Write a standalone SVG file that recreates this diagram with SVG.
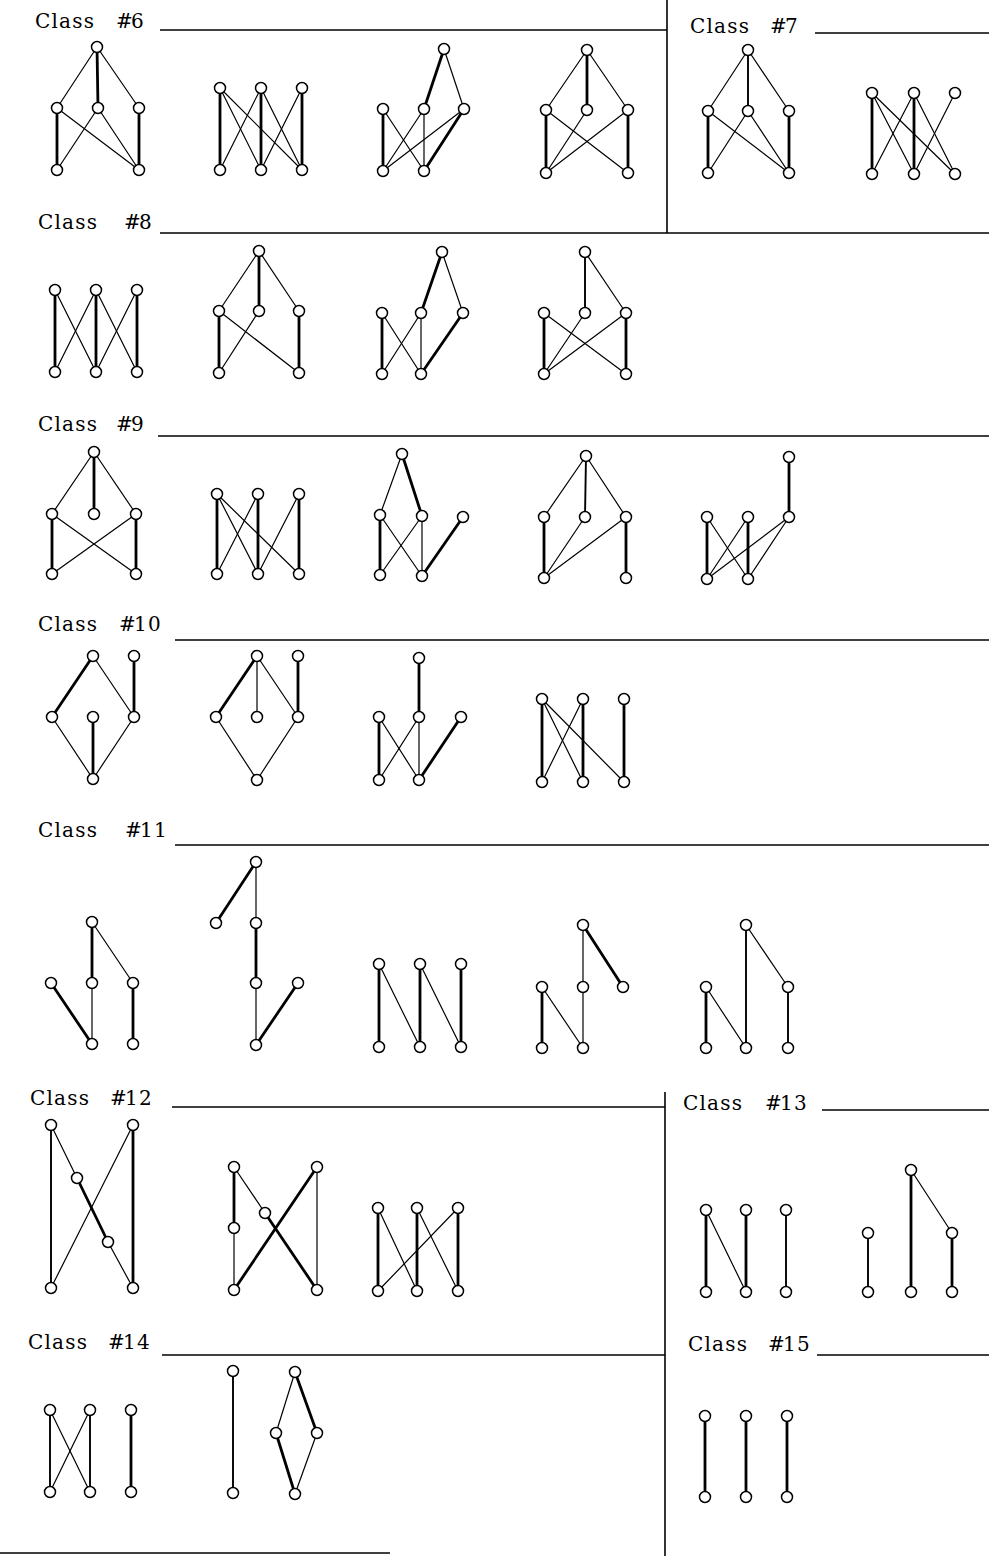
<svg xmlns="http://www.w3.org/2000/svg" width="989" height="1556" viewBox="0 0 989 1556">
<style>
.bg{fill:#fff}
.rule{stroke:#000;stroke-width:1.6;fill:none}
.lbl{font-family:"DejaVu Serif","Liberation Serif",serif;font-size:20px;letter-spacing:1.2px;fill:#000}
.lbl tspan{font-style:italic}
.connectors line{stroke:#000;stroke-linecap:round}
.t{stroke-width:1.2}
.m{stroke-width:1.9}
.k{stroke-width:2.8}
.nodes circle{fill:#fff;stroke:#000;stroke-width:1.5}
</style>
<rect class="bg" x="0" y="0" width="989" height="1556"/>
<g id="rules">
<line class="rule" x1="160" y1="30" x2="667" y2="30"/>
<line class="rule" x1="667" y1="0" x2="667" y2="233"/>
<line class="rule" x1="815" y1="33" x2="989" y2="33"/>
<line class="rule" x1="160" y1="233" x2="989" y2="233"/>
<line class="rule" x1="158" y1="436" x2="989" y2="436"/>
<line class="rule" x1="175" y1="640" x2="989" y2="640"/>
<line class="rule" x1="175" y1="845" x2="989" y2="845"/>
<line class="rule" x1="172" y1="1107" x2="665" y2="1107"/>
<line class="rule" x1="665" y1="1092" x2="665" y2="1556"/>
<line class="rule" x1="822" y1="1110" x2="989" y2="1110"/>
<line class="rule" x1="162" y1="1355" x2="665" y2="1355"/>
<line class="rule" x1="817" y1="1355" x2="989" y2="1355"/>
<line class="rule" x1="0" y1="1553" x2="390" y2="1553"/>
</g>
<g id="labels">
<text class="lbl" x="35" y="28">Class <tspan x="116">#</tspan><tspan x="131" style="font-style:normal">6</tspan></text>
<text class="lbl" x="690" y="33">Class <tspan x="770">#</tspan><tspan x="785" style="font-style:normal">7</tspan></text>
<text class="lbl" x="38" y="229">Class <tspan x="124">#</tspan><tspan x="139" style="font-style:normal">8</tspan></text>
<text class="lbl" x="38" y="431">Class <tspan x="116">#</tspan><tspan x="131" style="font-style:normal">9</tspan></text>
<text class="lbl" x="38" y="631">Class <tspan x="119">#</tspan><tspan x="134" style="font-style:normal">10</tspan></text>
<text class="lbl" x="38" y="837">Class <tspan x="125">#</tspan><tspan x="140" style="font-style:normal">11</tspan></text>
<text class="lbl" x="30" y="1105">Class <tspan x="110">#</tspan><tspan x="125" style="font-style:normal">12</tspan></text>
<text class="lbl" x="683" y="1110">Class <tspan x="765">#</tspan><tspan x="780" style="font-style:normal">13</tspan></text>
<text class="lbl" x="28" y="1349">Class <tspan x="108">#</tspan><tspan x="123" style="font-style:normal">14</tspan></text>
<text class="lbl" x="688" y="1351">Class <tspan x="768">#</tspan><tspan x="783" style="font-style:normal">15</tspan></text>
</g>
<g class="connectors" id="connectors">
<line class="t" x1="97" y1="47" x2="57" y2="108"/><line class="k" x1="97" y1="47" x2="98" y2="108"/><line class="t" x1="97" y1="47" x2="139" y2="108"/>
<line class="k" x1="57" y1="108" x2="57" y2="170"/><line class="t" x1="57" y1="108" x2="139" y2="170"/><line class="t" x1="98" y1="108" x2="57" y2="170"/><line class="t" x1="98" y1="108" x2="139" y2="170"/><line class="k" x1="139" y1="108" x2="139" y2="170"/>
<line class="k" x1="220" y1="88" x2="220" y2="170"/><line class="t" x1="220" y1="88" x2="261" y2="170"/><line class="t" x1="220" y1="88" x2="302" y2="170"/><line class="t" x1="261" y1="88" x2="220" y2="170"/><line class="k" x1="261" y1="88" x2="261" y2="170"/><line class="t" x1="261" y1="88" x2="302" y2="170"/><line class="t" x1="302" y1="88" x2="261" y2="170"/><line class="k" x1="302" y1="88" x2="302" y2="170"/>
<line class="k" x1="444" y1="49" x2="424" y2="109"/><line class="t" x1="444" y1="49" x2="464" y2="109"/>
<line class="k" x1="383" y1="109" x2="383" y2="171"/><line class="t" x1="383" y1="109" x2="424" y2="171"/><line class="t" x1="424" y1="109" x2="383" y2="171"/><line class="t" x1="424" y1="109" x2="424" y2="171"/><line class="t" x1="464" y1="109" x2="383" y2="171"/><line class="k" x1="464" y1="109" x2="424" y2="171"/>
<line class="t" x1="587" y1="50" x2="546" y2="110"/><line class="k" x1="587" y1="50" x2="587" y2="110"/><line class="t" x1="587" y1="50" x2="628" y2="110"/>
<line class="k" x1="546" y1="110" x2="546" y2="173"/><line class="t" x1="546" y1="110" x2="628" y2="173"/><line class="t" x1="587" y1="110" x2="546" y2="173"/><line class="t" x1="628" y1="110" x2="546" y2="173"/><line class="k" x1="628" y1="110" x2="628" y2="173"/>
<line class="t" x1="748" y1="50" x2="708" y2="111"/><line class="m" x1="748" y1="50" x2="748" y2="111"/><line class="t" x1="748" y1="50" x2="789" y2="111"/>
<line class="k" x1="708" y1="111" x2="708" y2="173"/><line class="t" x1="708" y1="111" x2="789" y2="173"/><line class="t" x1="748" y1="111" x2="708" y2="173"/><line class="t" x1="748" y1="111" x2="789" y2="173"/><line class="k" x1="789" y1="111" x2="789" y2="173"/>
<line class="k" x1="872" y1="93" x2="872" y2="174"/><line class="t" x1="872" y1="93" x2="914" y2="174"/><line class="t" x1="872" y1="93" x2="955" y2="174"/><line class="t" x1="914" y1="93" x2="872" y2="174"/><line class="k" x1="914" y1="93" x2="914" y2="174"/><line class="t" x1="914" y1="93" x2="955" y2="174"/><line class="t" x1="955" y1="93" x2="914" y2="174"/>
<line class="k" x1="55" y1="290" x2="55" y2="372"/><line class="t" x1="55" y1="290" x2="96" y2="372"/><line class="t" x1="96" y1="290" x2="55" y2="372"/><line class="k" x1="96" y1="290" x2="96" y2="372"/><line class="t" x1="96" y1="290" x2="137" y2="372"/><line class="t" x1="137" y1="290" x2="96" y2="372"/><line class="k" x1="137" y1="290" x2="137" y2="372"/>
<line class="t" x1="259" y1="251" x2="219" y2="311"/><line class="k" x1="259" y1="251" x2="259" y2="311"/><line class="t" x1="259" y1="251" x2="299" y2="311"/>
<line class="k" x1="219" y1="311" x2="219" y2="373"/><line class="t" x1="219" y1="311" x2="299" y2="373"/><line class="t" x1="259" y1="311" x2="219" y2="373"/><line class="k" x1="299" y1="311" x2="299" y2="373"/>
<line class="k" x1="442" y1="252" x2="421" y2="313"/><line class="t" x1="442" y1="252" x2="463" y2="313"/>
<line class="k" x1="382" y1="313" x2="382" y2="374"/><line class="t" x1="382" y1="313" x2="421" y2="374"/><line class="t" x1="421" y1="313" x2="382" y2="374"/><line class="t" x1="421" y1="313" x2="421" y2="374"/><line class="k" x1="463" y1="313" x2="421" y2="374"/>
<line class="m" x1="585" y1="252" x2="585" y2="313"/><line class="t" x1="585" y1="252" x2="626" y2="313"/>
<line class="k" x1="544" y1="313" x2="544" y2="374"/><line class="t" x1="544" y1="313" x2="626" y2="374"/><line class="t" x1="585" y1="313" x2="544" y2="374"/><line class="t" x1="626" y1="313" x2="544" y2="374"/><line class="k" x1="626" y1="313" x2="626" y2="374"/>
<line class="t" x1="94" y1="452" x2="52" y2="514"/><line class="k" x1="94" y1="452" x2="94" y2="514"/><line class="t" x1="94" y1="452" x2="136" y2="514"/>
<line class="k" x1="52" y1="514" x2="52" y2="574"/><line class="t" x1="52" y1="514" x2="136" y2="574"/><line class="t" x1="136" y1="514" x2="52" y2="574"/><line class="k" x1="136" y1="514" x2="136" y2="574"/>
<line class="k" x1="217" y1="494" x2="217" y2="574"/><line class="t" x1="217" y1="494" x2="258" y2="574"/><line class="t" x1="217" y1="494" x2="299" y2="574"/><line class="t" x1="258" y1="494" x2="217" y2="574"/><line class="k" x1="258" y1="494" x2="258" y2="574"/><line class="t" x1="299" y1="494" x2="258" y2="574"/><line class="k" x1="299" y1="494" x2="299" y2="574"/>
<line class="t" x1="402" y1="454" x2="380" y2="515"/><line class="k" x1="402" y1="454" x2="422" y2="516"/>
<line class="k" x1="380" y1="515" x2="380" y2="575"/><line class="t" x1="380" y1="515" x2="422" y2="576"/><line class="t" x1="422" y1="516" x2="380" y2="575"/><line class="t" x1="422" y1="516" x2="422" y2="576"/><line class="k" x1="463" y1="517" x2="422" y2="576"/>
<line class="t" x1="586" y1="456" x2="544" y2="517"/><line class="m" x1="586" y1="456" x2="585" y2="517"/><line class="t" x1="586" y1="456" x2="626" y2="517"/>
<line class="k" x1="544" y1="517" x2="544" y2="578"/><line class="t" x1="585" y1="517" x2="544" y2="578"/><line class="t" x1="626" y1="517" x2="544" y2="578"/><line class="k" x1="626" y1="517" x2="626" y2="578"/>
<line class="k" x1="789" y1="457" x2="789" y2="517"/>
<line class="k" x1="707" y1="517" x2="707" y2="579"/><line class="t" x1="707" y1="517" x2="748" y2="579"/><line class="t" x1="748" y1="517" x2="707" y2="579"/><line class="k" x1="748" y1="517" x2="748" y2="579"/><line class="t" x1="789" y1="517" x2="707" y2="579"/><line class="t" x1="789" y1="517" x2="748" y2="579"/>
<line class="k" x1="93" y1="656" x2="52" y2="717"/><line class="t" x1="93" y1="656" x2="134" y2="717"/><line class="k" x1="134" y1="656" x2="134" y2="717"/>
<line class="t" x1="52" y1="717" x2="93" y2="779"/><line class="k" x1="93" y1="717" x2="93" y2="779"/><line class="t" x1="134" y1="717" x2="93" y2="779"/>
<line class="k" x1="257" y1="656" x2="216" y2="717"/><line class="t" x1="257" y1="656" x2="257" y2="717"/><line class="t" x1="257" y1="656" x2="298" y2="717"/><line class="k" x1="298" y1="656" x2="298" y2="717"/>
<line class="t" x1="216" y1="717" x2="257" y2="780"/><line class="t" x1="298" y1="717" x2="257" y2="780"/>
<line class="k" x1="419" y1="658" x2="419" y2="717"/>
<line class="k" x1="379" y1="717" x2="379" y2="780"/><line class="t" x1="379" y1="717" x2="419" y2="780"/><line class="t" x1="419" y1="717" x2="379" y2="780"/><line class="t" x1="419" y1="717" x2="419" y2="780"/><line class="k" x1="461" y1="717" x2="419" y2="780"/>
<line class="k" x1="542" y1="699" x2="542" y2="782"/><line class="t" x1="542" y1="699" x2="583" y2="782"/><line class="t" x1="542" y1="699" x2="624" y2="782"/><line class="t" x1="583" y1="699" x2="542" y2="782"/><line class="k" x1="583" y1="699" x2="583" y2="782"/><line class="k" x1="624" y1="699" x2="624" y2="782"/>
<line class="k" x1="92" y1="922" x2="92" y2="983"/><line class="t" x1="92" y1="922" x2="133" y2="983"/>
<line class="k" x1="51" y1="983" x2="92" y2="1044"/><line class="t" x1="92" y1="983" x2="92" y2="1044"/><line class="k" x1="133" y1="983" x2="133" y2="1044"/>
<line class="k" x1="256" y1="862" x2="216" y2="923"/><line class="t" x1="256" y1="862" x2="256" y2="923"/><line class="k" x1="256" y1="923" x2="256" y2="983"/><line class="t" x1="256" y1="983" x2="256" y2="1045"/><line class="k" x1="298" y1="983" x2="256" y2="1045"/>
<line class="k" x1="379" y1="964" x2="379" y2="1047"/><line class="t" x1="379" y1="964" x2="420" y2="1047"/><line class="k" x1="420" y1="964" x2="420" y2="1047"/><line class="t" x1="420" y1="964" x2="461" y2="1047"/><line class="k" x1="461" y1="964" x2="461" y2="1047"/>
<line class="t" x1="583" y1="925" x2="583" y2="987"/><line class="k" x1="583" y1="925" x2="623" y2="987"/>
<line class="k" x1="542" y1="987" x2="542" y2="1048"/><line class="t" x1="542" y1="987" x2="583" y2="1048"/><line class="t" x1="583" y1="987" x2="583" y2="1048"/>
<line class="m" x1="746" y1="925" x2="746" y2="1048"/><line class="t" x1="746" y1="925" x2="788" y2="987"/>
<line class="k" x1="706" y1="987" x2="706" y2="1048"/><line class="t" x1="706" y1="987" x2="746" y2="1048"/><line class="m" x1="788" y1="987" x2="788" y2="1048"/>
<line class="m" x1="51" y1="1125" x2="51" y2="1288"/><line class="t" x1="51" y1="1125" x2="77" y2="1178"/><line class="k" x1="77" y1="1178" x2="108" y2="1242"/><line class="t" x1="108" y1="1242" x2="133" y2="1288"/><line class="t" x1="133" y1="1125" x2="51" y2="1288"/><line class="k" x1="133" y1="1125" x2="133" y2="1288"/>
<line class="k" x1="234" y1="1167" x2="234" y2="1228"/><line class="t" x1="234" y1="1228" x2="234" y2="1290"/><line class="t" x1="234" y1="1167" x2="265" y2="1213"/><line class="k" x1="265" y1="1213" x2="317" y2="1290"/><line class="k" x1="317" y1="1167" x2="234" y2="1290"/><line class="t" x1="317" y1="1167" x2="317" y2="1290"/>
<line class="k" x1="378" y1="1208" x2="378" y2="1291"/><line class="t" x1="378" y1="1208" x2="417" y2="1291"/><line class="k" x1="417" y1="1208" x2="417" y2="1291"/><line class="t" x1="417" y1="1208" x2="458" y2="1291"/><line class="t" x1="458" y1="1208" x2="378" y2="1291"/><line class="k" x1="458" y1="1208" x2="458" y2="1291"/>
<line class="k" x1="706" y1="1210" x2="706" y2="1292"/><line class="t" x1="706" y1="1210" x2="746" y2="1292"/><line class="k" x1="746" y1="1210" x2="746" y2="1292"/><line class="m" x1="786" y1="1210" x2="786" y2="1292"/>
<line class="m" x1="868" y1="1233" x2="868" y2="1292"/><line class="k" x1="911" y1="1170" x2="911" y2="1292"/><line class="t" x1="911" y1="1170" x2="952" y2="1233"/><line class="k" x1="952" y1="1233" x2="952" y2="1292"/>
<line class="m" x1="50" y1="1410" x2="50" y2="1492"/><line class="t" x1="50" y1="1410" x2="90" y2="1492"/><line class="t" x1="90" y1="1410" x2="50" y2="1492"/><line class="m" x1="90" y1="1410" x2="90" y2="1492"/><line class="k" x1="131" y1="1410" x2="131" y2="1492"/>
<line class="m" x1="233" y1="1371" x2="233" y2="1493"/><line class="t" x1="295" y1="1372" x2="276" y2="1433"/><line class="k" x1="295" y1="1372" x2="317" y2="1433"/><line class="k" x1="276" y1="1433" x2="295" y2="1494"/><line class="t" x1="317" y1="1433" x2="295" y2="1494"/>
<line class="k" x1="705" y1="1416" x2="705" y2="1497"/><line class="k" x1="746" y1="1416" x2="746" y2="1497"/><line class="k" x1="787" y1="1416" x2="787" y2="1497"/>
</g>
<g class="nodes" id="nodes">
<g id="c6a1"><circle cx="97" cy="47" r="5.5"/></g><g id="c6a2"><circle cx="57" cy="108" r="5.5"/></g><g id="c6a3"><circle cx="98" cy="108" r="5.5"/></g><g id="c6a4"><circle cx="139" cy="108" r="5.5"/></g><g id="c6a5"><circle cx="57" cy="170" r="5.5"/></g><g id="c6a6"><circle cx="139" cy="170" r="5.5"/></g>
<g id="c6b1"><circle cx="220" cy="88" r="5.5"/></g><g id="c6b2"><circle cx="261" cy="88" r="5.5"/></g><g id="c6b3"><circle cx="302" cy="88" r="5.5"/></g><g id="c6b4"><circle cx="220" cy="170" r="5.5"/></g><g id="c6b5"><circle cx="261" cy="170" r="5.5"/></g><g id="c6b6"><circle cx="302" cy="170" r="5.5"/></g>
<g id="c6c1"><circle cx="444" cy="49" r="5.5"/></g><g id="c6c2"><circle cx="383" cy="109" r="5.5"/></g><g id="c6c3"><circle cx="424" cy="109" r="5.5"/></g><g id="c6c4"><circle cx="464" cy="109" r="5.5"/></g><g id="c6c5"><circle cx="383" cy="171" r="5.5"/></g><g id="c6c6"><circle cx="424" cy="171" r="5.5"/></g>
<g id="c6d1"><circle cx="587" cy="50" r="5.5"/></g><g id="c6d2"><circle cx="546" cy="110" r="5.5"/></g><g id="c6d3"><circle cx="587" cy="110" r="5.5"/></g><g id="c6d4"><circle cx="628" cy="110" r="5.5"/></g><g id="c6d5"><circle cx="546" cy="173" r="5.5"/></g><g id="c6d6"><circle cx="628" cy="173" r="5.5"/></g>
<g id="c7a1"><circle cx="748" cy="50" r="5.5"/></g><g id="c7a2"><circle cx="708" cy="111" r="5.5"/></g><g id="c7a3"><circle cx="748" cy="111" r="5.5"/></g><g id="c7a4"><circle cx="789" cy="111" r="5.5"/></g><g id="c7a5"><circle cx="708" cy="173" r="5.5"/></g><g id="c7a6"><circle cx="789" cy="173" r="5.5"/></g>
<g id="c7b1"><circle cx="872" cy="93" r="5.5"/></g><g id="c7b2"><circle cx="914" cy="93" r="5.5"/></g><g id="c7b3"><circle cx="955" cy="93" r="5.5"/></g><g id="c7b4"><circle cx="872" cy="174" r="5.5"/></g><g id="c7b5"><circle cx="914" cy="174" r="5.5"/></g><g id="c7b6"><circle cx="955" cy="174" r="5.5"/></g>
<g id="c8a1"><circle cx="55" cy="290" r="5.5"/></g><g id="c8a2"><circle cx="96" cy="290" r="5.5"/></g><g id="c8a3"><circle cx="137" cy="290" r="5.5"/></g><g id="c8a4"><circle cx="55" cy="372" r="5.5"/></g><g id="c8a5"><circle cx="96" cy="372" r="5.5"/></g><g id="c8a6"><circle cx="137" cy="372" r="5.5"/></g>
<g id="c8b1"><circle cx="259" cy="251" r="5.5"/></g><g id="c8b2"><circle cx="219" cy="311" r="5.5"/></g><g id="c8b3"><circle cx="259" cy="311" r="5.5"/></g><g id="c8b4"><circle cx="299" cy="311" r="5.5"/></g><g id="c8b5"><circle cx="219" cy="373" r="5.5"/></g><g id="c8b6"><circle cx="299" cy="373" r="5.5"/></g>
<g id="c8c1"><circle cx="442" cy="252" r="5.5"/></g><g id="c8c2"><circle cx="382" cy="313" r="5.5"/></g><g id="c8c3"><circle cx="421" cy="313" r="5.5"/></g><g id="c8c4"><circle cx="463" cy="313" r="5.5"/></g><g id="c8c5"><circle cx="382" cy="374" r="5.5"/></g><g id="c8c6"><circle cx="421" cy="374" r="5.5"/></g>
<g id="c8d1"><circle cx="585" cy="252" r="5.5"/></g><g id="c8d2"><circle cx="544" cy="313" r="5.5"/></g><g id="c8d3"><circle cx="585" cy="313" r="5.5"/></g><g id="c8d4"><circle cx="626" cy="313" r="5.5"/></g><g id="c8d5"><circle cx="544" cy="374" r="5.5"/></g><g id="c8d6"><circle cx="626" cy="374" r="5.5"/></g>
<g id="c9a1"><circle cx="94" cy="452" r="5.5"/></g><g id="c9a2"><circle cx="52" cy="514" r="5.5"/></g><g id="c9a3"><circle cx="94" cy="514" r="5.5"/></g><g id="c9a4"><circle cx="136" cy="514" r="5.5"/></g><g id="c9a5"><circle cx="52" cy="574" r="5.5"/></g><g id="c9a6"><circle cx="136" cy="574" r="5.5"/></g>
<g id="c9b1"><circle cx="217" cy="494" r="5.5"/></g><g id="c9b2"><circle cx="258" cy="494" r="5.5"/></g><g id="c9b3"><circle cx="299" cy="494" r="5.5"/></g><g id="c9b4"><circle cx="217" cy="574" r="5.5"/></g><g id="c9b5"><circle cx="258" cy="574" r="5.5"/></g><g id="c9b6"><circle cx="299" cy="574" r="5.5"/></g>
<g id="c9c1"><circle cx="402" cy="454" r="5.5"/></g><g id="c9c2"><circle cx="380" cy="515" r="5.5"/></g><g id="c9c3"><circle cx="422" cy="516" r="5.5"/></g><g id="c9c4"><circle cx="463" cy="517" r="5.5"/></g><g id="c9c5"><circle cx="380" cy="575" r="5.5"/></g><g id="c9c6"><circle cx="422" cy="576" r="5.5"/></g>
<g id="c9d1"><circle cx="586" cy="456" r="5.5"/></g><g id="c9d2"><circle cx="544" cy="517" r="5.5"/></g><g id="c9d3"><circle cx="585" cy="517" r="5.5"/></g><g id="c9d4"><circle cx="626" cy="517" r="5.5"/></g><g id="c9d5"><circle cx="544" cy="578" r="5.5"/></g><g id="c9d6"><circle cx="626" cy="578" r="5.5"/></g>
<g id="c9e1"><circle cx="789" cy="457" r="5.5"/></g><g id="c9e2"><circle cx="707" cy="517" r="5.5"/></g><g id="c9e3"><circle cx="748" cy="517" r="5.5"/></g><g id="c9e4"><circle cx="789" cy="517" r="5.5"/></g><g id="c9e5"><circle cx="707" cy="579" r="5.5"/></g><g id="c9e6"><circle cx="748" cy="579" r="5.5"/></g>
<g id="c10a1"><circle cx="93" cy="656" r="5.5"/></g><g id="c10a2"><circle cx="134" cy="656" r="5.5"/></g><g id="c10a3"><circle cx="52" cy="717" r="5.5"/></g><g id="c10a4"><circle cx="93" cy="717" r="5.5"/></g><g id="c10a5"><circle cx="134" cy="717" r="5.5"/></g><g id="c10a6"><circle cx="93" cy="779" r="5.5"/></g>
<g id="c10b1"><circle cx="257" cy="656" r="5.5"/></g><g id="c10b2"><circle cx="298" cy="656" r="5.5"/></g><g id="c10b3"><circle cx="216" cy="717" r="5.5"/></g><g id="c10b4"><circle cx="257" cy="717" r="5.5"/></g><g id="c10b5"><circle cx="298" cy="717" r="5.5"/></g><g id="c10b6"><circle cx="257" cy="780" r="5.5"/></g>
<g id="c10c1"><circle cx="419" cy="658" r="5.5"/></g><g id="c10c2"><circle cx="379" cy="717" r="5.5"/></g><g id="c10c3"><circle cx="419" cy="717" r="5.5"/></g><g id="c10c4"><circle cx="461" cy="717" r="5.5"/></g><g id="c10c5"><circle cx="379" cy="780" r="5.5"/></g><g id="c10c6"><circle cx="419" cy="780" r="5.5"/></g>
<g id="c10d1"><circle cx="542" cy="699" r="5.5"/></g><g id="c10d2"><circle cx="583" cy="699" r="5.5"/></g><g id="c10d3"><circle cx="624" cy="699" r="5.5"/></g><g id="c10d4"><circle cx="542" cy="782" r="5.5"/></g><g id="c10d5"><circle cx="583" cy="782" r="5.5"/></g><g id="c10d6"><circle cx="624" cy="782" r="5.5"/></g>
<g id="c11a1"><circle cx="92" cy="922" r="5.5"/></g><g id="c11a2"><circle cx="51" cy="983" r="5.5"/></g><g id="c11a3"><circle cx="92" cy="983" r="5.5"/></g><g id="c11a4"><circle cx="133" cy="983" r="5.5"/></g><g id="c11a5"><circle cx="92" cy="1044" r="5.5"/></g><g id="c11a6"><circle cx="133" cy="1044" r="5.5"/></g>
<g id="c11b1"><circle cx="256" cy="862" r="5.5"/></g><g id="c11b2"><circle cx="216" cy="923" r="5.5"/></g><g id="c11b3"><circle cx="256" cy="923" r="5.5"/></g><g id="c11b4"><circle cx="256" cy="983" r="5.5"/></g><g id="c11b5"><circle cx="298" cy="983" r="5.5"/></g><g id="c11b6"><circle cx="256" cy="1045" r="5.5"/></g>
<g id="c11c1"><circle cx="379" cy="964" r="5.5"/></g><g id="c11c2"><circle cx="420" cy="964" r="5.5"/></g><g id="c11c3"><circle cx="461" cy="964" r="5.5"/></g><g id="c11c4"><circle cx="379" cy="1047" r="5.5"/></g><g id="c11c5"><circle cx="420" cy="1047" r="5.5"/></g><g id="c11c6"><circle cx="461" cy="1047" r="5.5"/></g>
<g id="c11d1"><circle cx="583" cy="925" r="5.5"/></g><g id="c11d2"><circle cx="542" cy="987" r="5.5"/></g><g id="c11d3"><circle cx="583" cy="987" r="5.5"/></g><g id="c11d4"><circle cx="623" cy="987" r="5.5"/></g><g id="c11d5"><circle cx="542" cy="1048" r="5.5"/></g><g id="c11d6"><circle cx="583" cy="1048" r="5.5"/></g>
<g id="c11e1"><circle cx="746" cy="925" r="5.5"/></g><g id="c11e2"><circle cx="706" cy="987" r="5.5"/></g><g id="c11e3"><circle cx="788" cy="987" r="5.5"/></g><g id="c11e4"><circle cx="706" cy="1048" r="5.5"/></g><g id="c11e5"><circle cx="746" cy="1048" r="5.5"/></g><g id="c11e6"><circle cx="788" cy="1048" r="5.5"/></g>
<g id="c12a1"><circle cx="51" cy="1125" r="5.5"/></g><g id="c12a2"><circle cx="133" cy="1125" r="5.5"/></g><g id="c12a3"><circle cx="77" cy="1178" r="5.5"/></g><g id="c12a4"><circle cx="108" cy="1242" r="5.5"/></g><g id="c12a5"><circle cx="51" cy="1288" r="5.5"/></g><g id="c12a6"><circle cx="133" cy="1288" r="5.5"/></g>
<g id="c12b1"><circle cx="234" cy="1167" r="5.5"/></g><g id="c12b2"><circle cx="317" cy="1167" r="5.5"/></g><g id="c12b3"><circle cx="265" cy="1213" r="5.5"/></g><g id="c12b4"><circle cx="234" cy="1228" r="5.5"/></g><g id="c12b5"><circle cx="234" cy="1290" r="5.5"/></g><g id="c12b6"><circle cx="317" cy="1290" r="5.5"/></g>
<g id="c12c1"><circle cx="378" cy="1208" r="5.5"/></g><g id="c12c2"><circle cx="417" cy="1208" r="5.5"/></g><g id="c12c3"><circle cx="458" cy="1208" r="5.5"/></g><g id="c12c4"><circle cx="378" cy="1291" r="5.5"/></g><g id="c12c5"><circle cx="417" cy="1291" r="5.5"/></g><g id="c12c6"><circle cx="458" cy="1291" r="5.5"/></g>
<g id="c13a1"><circle cx="706" cy="1210" r="5.5"/></g><g id="c13a2"><circle cx="746" cy="1210" r="5.5"/></g><g id="c13a3"><circle cx="786" cy="1210" r="5.5"/></g><g id="c13a4"><circle cx="706" cy="1292" r="5.5"/></g><g id="c13a5"><circle cx="746" cy="1292" r="5.5"/></g><g id="c13a6"><circle cx="786" cy="1292" r="5.5"/></g>
<g id="c13b1"><circle cx="868" cy="1233" r="5.5"/></g><g id="c13b2"><circle cx="868" cy="1292" r="5.5"/></g><g id="c13b3"><circle cx="911" cy="1170" r="5.5"/></g><g id="c13b4"><circle cx="911" cy="1292" r="5.5"/></g><g id="c13b5"><circle cx="952" cy="1233" r="5.5"/></g><g id="c13b6"><circle cx="952" cy="1292" r="5.5"/></g>
<g id="c14a1"><circle cx="50" cy="1410" r="5.5"/></g><g id="c14a2"><circle cx="90" cy="1410" r="5.5"/></g><g id="c14a3"><circle cx="131" cy="1410" r="5.5"/></g><g id="c14a4"><circle cx="50" cy="1492" r="5.5"/></g><g id="c14a5"><circle cx="90" cy="1492" r="5.5"/></g><g id="c14a6"><circle cx="131" cy="1492" r="5.5"/></g>
<g id="c14b1"><circle cx="233" cy="1371" r="5.5"/></g><g id="c14b2"><circle cx="233" cy="1493" r="5.5"/></g><g id="c14b3"><circle cx="295" cy="1372" r="5.5"/></g><g id="c14b4"><circle cx="276" cy="1433" r="5.5"/></g><g id="c14b5"><circle cx="317" cy="1433" r="5.5"/></g><g id="c14b6"><circle cx="295" cy="1494" r="5.5"/></g>
<g id="c15a1"><circle cx="705" cy="1416" r="5.5"/></g><g id="c15a2"><circle cx="746" cy="1416" r="5.5"/></g><g id="c15a3"><circle cx="787" cy="1416" r="5.5"/></g><g id="c15a4"><circle cx="705" cy="1497" r="5.5"/></g><g id="c15a5"><circle cx="746" cy="1497" r="5.5"/></g><g id="c15a6"><circle cx="787" cy="1497" r="5.5"/></g>
</g>
</svg>
